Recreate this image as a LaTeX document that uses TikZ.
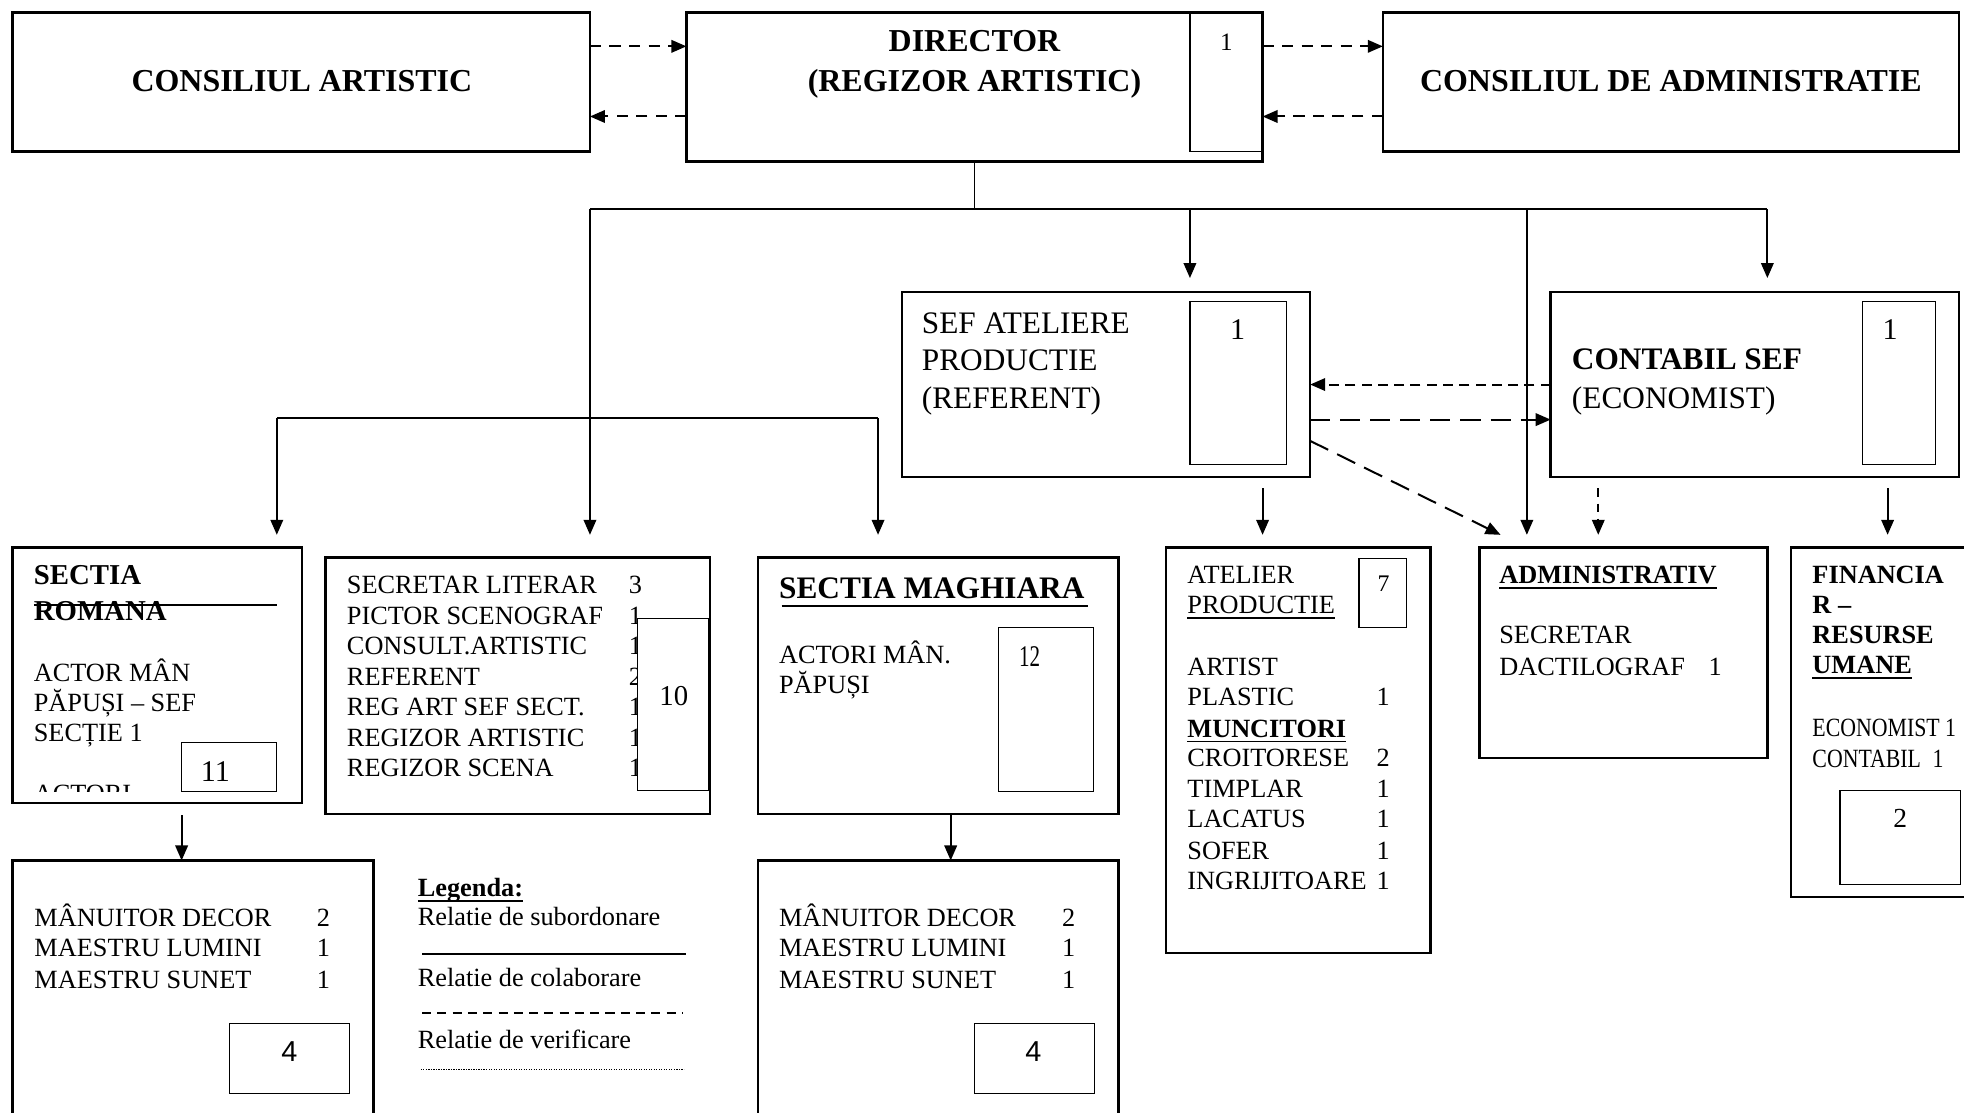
\documentclass[tikz,border=0pt]{standalone}
\usepackage{fontspec}
\setmainfont{Liberation Serif}
\newfontfamily\narrowfont[FakeStretch=0.83]{Liberation Serif}
\newfontfamily\condfont[FakeStretch=0.7]{Liberation Serif}
\newfontfamily\arialfont{Liberation Sans}
\usetikzlibrary{arrows.meta,calc}
\newcommand\fsz[1]{\fontsize{#1}{#1}\selectfont}
\newcommand\mkbox[6][]{\node[#1,minimum width={(#5-#3)*0.5pt},minimum height={(#6-#4)*0.5pt}] (#2) at ({(#3+#5)/2},{(#4+#6)/2}) {};}
\begin{document}
\begin{tikzpicture}[x=0.5pt,y=-0.5pt,
  box/.style={draw, line width=1pt, rectangle, inner sep=0pt, outer sep=0pt},
  inbox/.style={draw, line width=0.45pt, fill=white, rectangle, inner sep=0pt, outer sep=0pt},
  conn/.style={line width=0.8pt},
  arr/.style={conn, -{Triangle[length=6pt,width=5pt]}},
  dasharr/.style={arr, dash pattern=on 4.5pt off 3.3pt},
  longdash/.style={arr, dash pattern=on 8pt off 4pt},
  t/.style={anchor=base west, inner sep=0pt, outer sep=0pt, font=\fsz{10.5}},
  tb/.style={anchor=base west, inner sep=0pt, outer sep=0pt, font=\fsz{10.5}\bfseries},
  head/.style={anchor=base, inner sep=0pt, outer sep=0pt, font=\fsz{12.75}\bfseries},
  mid/.style={anchor=base west, inner sep=0pt, outer sep=0pt, font=\fsz{12.5}},
  num/.style={anchor=base, inner sep=0pt, outer sep=0pt, font=\fsz{11.5}},
  uline/.style={line width=0.75pt}
]
\useasboundingbox (0,0) rectangle (1568,888);
\clip (0,0) rectangle (1568,888);
\fill[white] (0,0) rectangle (1568,888);

% ---------- top row ----------
\mkbox[box]{ca}{10}{10}{471}{121}
\mkbox[box]{dir}{548}{10}{1008}{129}
\mkbox[inbox,fill=none]{dirn}{950}{10}{1008}{121}
\mkbox[box]{cda}{1104}{10}{1564}{121}
\node[head] (tca) at (241,73) {CONSILIUL ARTISTIC};
\node[head] (td1) at (778,41.5) {DIRECTOR};
\node[head] (td2) at (778,73) {(REGIZOR ARTISTIC)};
\node[num,font=\fsz{10}] (dirnum) at (979,40) {1};
\node[head] (tcda) at (1334,73) {CONSILIUL DE ADMINISTRATIE};

\draw[dasharr] ([yshift=14.25pt]ca.east) -- ([yshift=14.25pt]ca.east -| dir.west);
\draw[dasharr] ([yshift=-13.75pt]ca.east -| dir.west) -- ([yshift=-13.75pt]ca.east);
\draw[dasharr] ([yshift=14.25pt]cda.west -| dir.east) -- ([yshift=14.25pt]cda.west);
\draw[dasharr] ([yshift=-13.75pt]cda.west) -- ([yshift=-13.75pt]cda.west -| dir.east);

% ---------- second row ----------
\mkbox[box]{sef}{720}{233}{1046}{381}
\mkbox[inbox]{sefn}{950}{241}{1027}{371}
\node[mid] (sef1) at (736,266) {SEF ATELIERE};
\node[mid] (sef2) at (736,296) {PRODUCTIE};
\node[mid] (sef3) at (736,326) {(REFERENT)};
\node[num,font=\fsz{12}] (sefnum) at (988,271) {1};

\mkbox[box]{cont}{1238}{233}{1564}{381}
\mkbox[inbox]{contn}{1487}{241}{1545}{371}
\node[mid,font=\fsz{12.5}\bfseries] (cont1) at (1255,295) {CONTABIL SEF};
\node[mid] (cont2) at (1255,326) {(ECONOMIST)};
\node[num,font=\fsz{12}] (contnum) at (1509,271) {1};

% ---------- third row boxes ----------
\mkbox[box]{rom}{10}{437}{241}{641}
\mkbox[box]{secr}{260}{445}{567}{650}
\mkbox[box]{mag}{605}{445}{893}{650}
\mkbox[box]{atl}{931}{437}{1142}{761}
\mkbox[box]{adm}{1181}{437}{1411}{605}
\mkbox[box]{fin}{1430}{437}{1580}{716}

% Sectia Romana
\node[tb,font=\fsz{11.5}\bfseries] (rom1) at (27,467) {SECTIA};
\node[tb,font=\fsz{11.5}\bfseries] (rom2) at (27,495) {ROMANA};
\draw[uline] (27,483) -- (221,483);
\node[t] (rom3) at (27,544) {ACTOR MÂN};
\node[t] (rom4) at (27,568) {PĂPUȘI – SEF};
\node[t] (rom5) at (27,592) {SECȚIE 1};
\mkbox[inbox]{romn}{145}{593}{221}{632}
\node[num,font=\fsz{12}] (romnum) at (172,624) {11};
\begin{scope}
\clip (20,600) rectangle (140,632);
\node[t] (rom6) at (27,641) {ACTORI};
\end{scope}

% Secretar literar box
\foreach \s/\n [count=\i] in {SECRETAR LITERAR/3,PICTOR SCENOGRAF/1,CONSULT.ARTISTIC/1,REFERENT/2,REG ART SEF SECT./1,REGIZOR ARTISTIC/1,REGIZOR SCENA/1}{
  \pgfmathsetmacro\yy{474+(\i-1)*24.33}
  \node[t] (sec\i) at (277,\yy) {\s};
  \node[t] (secn\i) at (502,\yy) {\n};
}
\mkbox[inbox]{secrn}{509}{494}{566}{631}
\node[num] (secrnum) at (538,563) {10};

% Sectia Maghiara
\node[tb,font=\fsz{12.5}\bfseries] (mag1) at (622,477.5) {SECTIA MAGHIARA};
\draw[uline] ($(mag1.base west)+(2,6.5)$) -- ($(mag1.base east)+(3,6.5)$);
\node[t] (mag2) at (622,529.6) {ACTORI MÂN.};
\node[t] (mag3) at (622,553.6) {PĂPUȘI};
\mkbox[inbox]{magn}{797}{501}{873}{632}
\node[num,font=\fsz{12}\condfont] (magnum) at (822,532) {12};

% Atelier productie
\node[t] (atl1) at (948,465.5) {ATELIER};
\node[t] (atl2) at (948,489.7) {PRODUCTIE};
\draw[uline] ($(atl2.base west)+(0,3.5)$) -- ($(atl2.base east)+(0,3.5)$);
\node[t] (atl3) at (948,539) {ARTIST};
\node[t] (atl4) at (948,563) {PLASTIC};
\node[tb] (atl5) at (948,588.5) {MUNCITORI};
\draw[uline] ($(atl5.base west)+(0,3.5)$) -- ($(atl5.base east)+(0,3.5)$);
\node[t] (atl6) at (948,612) {CROITORESE};
\node[t] (atl7) at (948,637) {TIMPLAR};
\node[t] (atl8) at (948,661) {LACATUS};
\node[t] (atl9) at (948,686.5) {SOFER};
\node[t] (atl10) at (948,710.5) {INGRIJITOARE};
\node[t] (atln4) at (1099,563) {1};
\node[t] (atln6) at (1099,612) {2};
\node[t] (atln7) at (1099,637) {1};
\node[t] (atln8) at (1099,661) {1};
\node[t] (atln9) at (1099,686.5) {1};
\node[t] (atln10) at (1099,710.5) {1};
\mkbox[inbox]{atln}{1085}{446}{1123}{501}
\node[num,font=\fsz{9.5}] (atlnum) at (1104.5,472) {7};

% Administrativ
\node[tb] (adm1) at (1197,465.7) {ADMINISTRATIV};
\draw[uline] ($(adm1.base west)+(0,3.8)$) -- ($(adm1.base east)+(0,3.8)$);
\node[t] (adm2) at (1197,513.6) {SECRETAR};
\node[t] (adm3) at (1197,539) {DACTILOGRAF};
\node[t] (adm4) at (1364,539) {1};

% Financiar
\node[tb] (fin1) at (1447,465.7) {FINANCIA};
\node[tb] (fin2) at (1447,489.7) {R –};
\node[tb] (fin3) at (1447,513.6) {RESURSE};
\node[tb] (fin4) at (1447,537.5) {UMANE};
\draw[uline] ($(fin4.base west)+(0,4)$) -- ($(fin4.base east)+(0,4)$);
\node[t,font=\fsz{10.5}\narrowfont] (fin5) at (1447,587.6) {ECONOMIST 1};
\node[t,font=\fsz{10.5}\narrowfont] (fin6) at (1447,613) {CONTABIL};
\node[t,font=\fsz{10.5}\narrowfont] (fin7) at (1543,613) {1};
\mkbox[inbox]{finn}{1469}{631}{1565}{706}
\node[num,font=\fsz{11}] (finnum) at (1517,661) {2};

% ---------- bottom row ----------
\mkbox[box]{bl}{10}{687}{298}{900}
\node[t] (bl1) at (27.5,739.8) {MÂNUITOR DECOR};
\node[t] (bl2) at (27.5,763.7) {MAESTRU LUMINI};
\node[t] (bl3) at (27.5,789) {MAESTRU SUNET};
\node[t] (bln1) at (253,739.8) {2};
\node[t] (bln2) at (253,763.7) {1};
\node[t] (bln3) at (253,789) {1};
\mkbox[inbox]{bln}{183}{817}{279}{873}
\node[num,font=\fsz{11.5}\arialfont] (blnum) at (231,847.6) {4};

\mkbox[box]{bm}{605}{687}{893}{900}
\node[t] (bm1) at (622,739.8) {MÂNUITOR DECOR};
\node[t] (bm2) at (622,763.7) {MAESTRU LUMINI};
\node[t] (bm3) at (622,789) {MAESTRU SUNET};
\node[t] (bmn1) at (848,739.8) {2};
\node[t] (bmn2) at (848,763.7) {1};
\node[t] (bmn3) at (848,789) {1};
\mkbox[inbox]{bmn}{778}{817}{874}{873}
\node[num,font=\fsz{11.5}\arialfont] (bmnum) at (825,847.6) {4};

% legend
\node[tb] (leg0) at (333.6,716) {Legenda:};
\draw[uline] ($(leg0.base west)+(0,3.5)$) -- ($(leg0.base east)+(0,3.5)$);
\node[t] (leg1) at (333.6,738.5) {Relatie de subordonare};
\draw[line width=0.8pt] (337,761.6) -- (548,761.6);
\node[t] (leg2) at (333.6,787.7) {Relatie de colaborare};
\draw[line width=0.8pt, dash pattern=on 3.6pt off 2.5pt] (337,809) -- (545,809);
\node[t] (leg3) at (333.6,837) {Relatie de verificare};
\draw[line width=0.5pt, dash pattern=on 0.45pt off 0.55pt] (336,854) -- (546,854);

% ---------- connectors ----------
\coordinate (bus0) at (778,167);
\coordinate (busL) at (471,167);
\coordinate (bus2) at (950,167);
\coordinate (bus3) at (1219,167);
\coordinate (busR) at (1411,167);
\draw[line width=0.45pt] (dir.south) -- (bus0);
\draw[conn] (busL) -- (busR);
\draw[arr, shorten >=9pt] (busL) -- (busL |- secr.north);
\draw[arr, shorten >=5.5pt] (bus2) -- (bus2 |- sef.north);
\draw[arr, shorten >=5pt] (bus3) -- (bus3 |- adm.north);
\draw[arr, shorten >=5.5pt] (busR) -- (busR |- cont.north);

\coordinate (c1) at (221,334);
\coordinate (c2) at (701,334);
\draw[conn] (c1) -- (c2);
\draw[arr, shorten >=5pt] (c1) -- (c1 |- rom.north);
\draw[arr, shorten >=9pt] (c2) -- (c2 |- mag.north);

\coordinate (s1) at (1008,390);
\draw[arr, shorten >=5pt] (s1) -- (s1 |- atl.north);
\coordinate (k1) at (1276,390);
\draw[arr, dash pattern=on 3.5pt off 2.5pt, shorten >=5pt] (k1) -- (k1 |- adm.north);
\coordinate (k2) at (1507,390);
\draw[arr, shorten >=5pt] (k2) -- (k2 |- fin.north);

\draw[arr, dash pattern=on 4pt off 2.5pt] (cont.west) -- (sef.east);
\draw[longdash] ([yshift=-14pt]sef.east) -- ([yshift=-14pt]cont.west);
\draw[longdash] ([yshift=-22.5pt]sef.east) -- ([xshift=8.5pt,yshift=5pt]adm.north west);

\coordinate (r1) at (145,651);
\draw[arr] (r1) -- (r1 |- bl.north);
\coordinate (m1) at (759,650);
\draw[arr] (m1) -- (m1 |- bm.north);
\end{tikzpicture}
\end{document}
